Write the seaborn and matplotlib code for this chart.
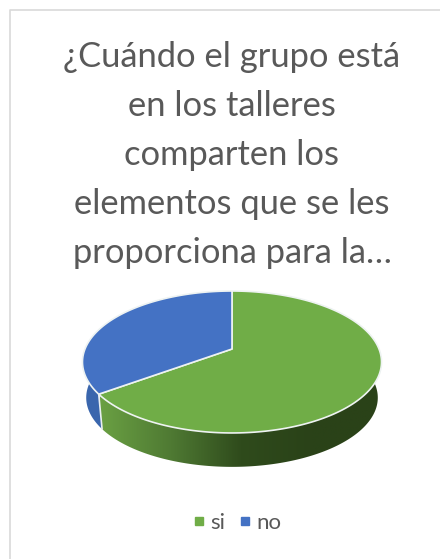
import numpy as np
import seaborn as sns
import matplotlib.pyplot as plt
from matplotlib.colors import LinearSegmentedColormap
from matplotlib.lines import Line2D
from matplotlib.patches import Polygon

title_lines = ['¿Cuándo el grupo está', 'en los talleres', 'comparten los',
               'elementos que se les', 'proporciona para la…']
labels = ['si', 'no']
values = [65, 35]
colors = ['#70ad47', '#4472c4']

sns.set_theme(style='white')
plt.rcParams['font.family'] = ['Lato', 'DejaVu Sans']

fig = plt.figure(figsize=(4.4, 5.59), dpi=100)
ax = fig.add_axes([0, 0, 1, 1])
ax.set_xlim(0, 440)
ax.set_ylim(559, 0)
ax.axis('off')

# only the top and left of the chart frame are inside the picture
ax.plot([9.5, 9.5, 440], [559, 9.5, 9.5], color='#d9d9d9', lw=1.2)

for i, line in enumerate(title_lines):
    ax.text(232, 57 + i * 49, line, ha='center', va='center', fontsize=24.8, color='#595959')


# the disc is seen in perspective, so far side is squashed
def project(theta, shrink=1.0, drop=0.0):
    x = np.sin(theta) * shrink
    y = np.cos(theta) * shrink
    w = 1 + 0.183 * np.cos(theta)
    return 232 + 147 * x / w, 349 + drop - 68.6 * y / w


shares = np.array(values) / sum(values) * 2 * np.pi
edges = np.concatenate([[0], np.cumsum(shares)])

# side wall, only the front part is visible
wall_t = np.linspace(np.pi / 2 - 0.05, edges[1], 200)
wall_top = project(wall_t)
wall_bot = project(wall_t, 0.975, 36)
wall = np.column_stack([np.r_[wall_top[0], wall_bot[0][::-1]], np.r_[wall_top[1], wall_bot[1][::-1]]])
poly = Polygon(wall, fc='none', ec='none')
ax.add_patch(poly)
shade = LinearSegmentedColormap.from_list('shade', ['#6aa043', '#4f7a33', '#2f4b1c', '#2a4218', '#2a4218'])
im = ax.imshow(np.linspace(0, 1, 256)[None, :], cmap=shade, extent=(100, 382, 480, 340), aspect='auto', zorder=1)
im.set_clip_path(poly)
ax.set_xlim(0, 440)
ax.set_ylim(559, 0)

blue_t = np.linspace(edges[1], 1.5 * np.pi + 0.05, 100)
blue_top = project(blue_t)
blue_bot = project(blue_t, 0.975, 36)
ax.fill(np.r_[blue_top[0], blue_bot[0][::-1]], np.r_[blue_top[1], blue_bot[1][::-1]],
        color='#3a66ad', zorder=1.5, lw=0)
ax.plot(*project(np.array([edges[1], edges[1]]), np.array([1.0, 0.975]), np.array([0, 36])),
        color='#e8eef0', lw=1.2, zorder=1.6)

# top face
for k, color in enumerate(colors):
    t = np.linspace(edges[k], edges[k + 1], 200)
    px, py = project(t)
    ax.fill(np.r_[232, px], np.r_[349, py], fc=color, ec='#eef3f2', lw=1.2, zorder=2, joinstyle='round')

handles = [Line2D([], [], ls='', marker='s', ms=5.8, color=c) for c in colors]
ax.legend(handles, labels, ncol=2, loc='center', bbox_to_anchor=(237 / 440, 1 - 523 / 559), frameon=False,
          fontsize=16, labelcolor='#595959', handlelength=0.6, handletextpad=0.2, columnspacing=0.6, borderpad=0)

plt.savefig('out.png', dpi=100)
